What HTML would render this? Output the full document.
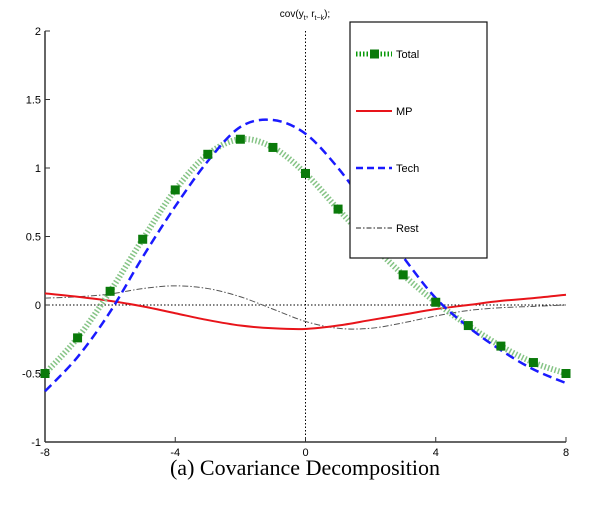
<!DOCTYPE html>
<html><head><meta charset="utf-8"><style>
body{margin:0;background:#fff;width:600px;height:500px;overflow:hidden}
svg{font-family:"Liberation Sans",sans-serif}
</style></head><body>
<svg id="chart" width="600" height="500" viewBox="0 0 600 500">
<g id="axes"></g>
<g id="series"></g>
<g id="legend"></g>
<text x="305" y="17" font-size="10" text-anchor="middle">cov(y<tspan font-size="7" dy="3">t</tspan><tspan dy="-3">, r</tspan><tspan font-size="7" dy="3">t−k</tspan><tspan dy="-3">);</tspan></text>
<text x="305" y="475" font-size="22" text-anchor="middle" font-family="Liberation Serif, serif">(a) Covariance Decomposition</text>
</svg>
<script>
const lags=[-8,-7,-6,-5,-4,-3,-2,-1,0,1,2,3,4,5,6,7,8];
const totalVals=[-0.5,-0.24,0.1,0.48,0.84,1.1,1.21,1.15,0.96,0.7,0.45,0.22,0.02,-0.15,-0.3,-0.42,-0.5];
const techVals=[-0.63,-0.38,-0.05,0.35,0.72,1.05,1.3,1.35,1.25,1.0,0.68,0.35,0.05,-0.16,-0.33,-0.47,-0.57];
const mpVals=[0.085,0.06,0.03,-0.01,-0.06,-0.11,-0.15,-0.17,-0.175,-0.15,-0.11,-0.07,-0.03,0.0,0.03,0.05,0.075];
const restVals=[0.05,0.06,0.08,0.12,0.14,0.12,0.06,-0.03,-0.12,-0.17,-0.17,-0.13,-0.08,-0.04,-0.02,-0.01,0.0];
const xTicks=[-8,-4,0,4,8];
const yTicks=[-1,-0.5,0,0.5,1,1.5,2];
const NS="http://www.w3.org/2000/svg";
const L=45,R=566,T=31,B=442;
const X=v=>L+(v+8)/16*(R-L);
const Y=v=>B-(v+1)/3*(B-T);
function mk(tag,attrs,parent){const e=document.createElementNS(NS,tag);for(const k in attrs)e.setAttribute(k,attrs[k]);parent.appendChild(e);return e;}
const ax=document.getElementById('axes');
let e=mk('line',{x1:L,y1:T,x2:L,y2:B,stroke:'#333','stroke-width':1.5},ax);


e=mk('line',{x1:L,y1:B,x2:R,y2:B,stroke:'#333','stroke-width':1.5},ax);


e=mk('line',{x1:X(0),y1:T,x2:X(0),y2:B,stroke:'#000','stroke-width':1,'stroke-dasharray':'1.5 2'},ax);


e=mk('line',{x1:L,y1:Y(0),x2:R,y2:Y(0),stroke:'#000','stroke-width':1,'stroke-dasharray':'1.5 2'},ax);


xTicks.forEach(t=>{
 mk('line',{x1:X(t),y1:B,x2:X(t),y2:B-5,stroke:'#333'},ax);
 const tx=mk('text',{x:X(t),y:B+14,'font-size':11,'text-anchor':'middle'},ax);tx.textContent=t;
 
 
});
yTicks.forEach(t=>{
 mk('line',{x1:L,y1:Y(t),x2:L+5,y2:Y(t),stroke:'#333'},ax);
 const tx=mk('text',{x:L-4,y:Y(t)+4,'font-size':11,'text-anchor':'end'},ax);tx.textContent=t;
 
 
});
function smooth(vals){
 const p=lags.map((l,i)=>[X(l),Y(vals[i])]);
 let d='M'+p[0][0]+','+p[0][1];
 for(let i=0;i<p.length-1;i++){
  const p0=p[Math.max(0,i-1)],p1=p[i],p2=p[i+1],p3=p[Math.min(p.length-1,i+2)];
  const c1=[p1[0]+(p2[0]-p0[0])/6,p1[1]+(p2[1]-p0[1])/6];
  const c2=[p2[0]-(p3[0]-p1[0])/6,p2[1]-(p3[1]-p1[1])/6];
  d+=' C'+c1+' '+c2+' '+p2;
 }
 return d;
}
const sg=document.getElementById('series');
e=mk('path',{d:smooth(restVals),fill:'none',stroke:'#555','stroke-width':1,'stroke-dasharray':'6 2 1.5 2'},sg);


e=mk('path',{d:smooth(mpVals),fill:'none',stroke:'#e8141a','stroke-width':2},sg);


e=mk('path',{d:smooth(totalVals),fill:'none',stroke:'#86c486','stroke-width':6,'stroke-dasharray':'1.5 2'},sg);


e=mk('path',{d:smooth(techVals),fill:'none',stroke:'#1a1aff','stroke-width':2.5,'stroke-dasharray':'9 5'},sg);


lags.forEach((l,i)=>{
 const m=mk('rect',{x:X(l)-4.5,y:Y(totalVals[i])-4.5,width:9,height:9,fill:'#0a7a0a'},sg);
 
 
});
const lg=document.getElementById('legend');
e=mk('rect',{x:350,y:22,width:137,height:236,fill:'#fff',stroke:'#111','stroke-width':1.2},lg);


const items=[['Total',54],['MP',111],['Tech',168],['Rest',228]];
items.forEach(([n,y])=>{
 const g=mk('g',{},lg);
 
 
 if(n==='Total'){mk('line',{x1:356,y1:y,x2:392,y2:y,stroke:'#0a9a0a','stroke-width':5,'stroke-dasharray':'1.5 2'},g);mk('rect',{x:370,y:y-4.5,width:9,height:9,fill:'#0a7a0a'},g);}
 if(n==='MP')mk('line',{x1:356,y1:y,x2:392,y2:y,stroke:'#e8141a','stroke-width':2},g);
 if(n==='Tech')mk('line',{x1:356,y1:y,x2:392,y2:y,stroke:'#1a1aff','stroke-width':2.5,'stroke-dasharray':'7 4'},g);
 if(n==='Rest')mk('line',{x1:356,y1:y,x2:392,y2:y,stroke:'#222','stroke-width':1,'stroke-dasharray':'5 2 1.5 2'},g);
 const t=mk('text',{x:396,y:y+4,'font-size':11},g);t.textContent=n;
});
</script>
</body></html>
